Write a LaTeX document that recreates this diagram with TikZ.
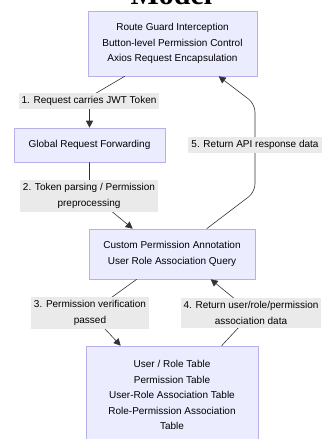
\documentclass[tikz,border=0pt]{standalone}
\usepackage{fontspec}
\setmainfont{Liberation Sans}
\newfontfamily\titlefont{Liberation Serif}
\usetikzlibrary{arrows.meta,calc}
\definecolor{boxfill}{HTML}{ECECFF}
\definecolor{boxline}{HTML}{B8B0EC}
\definecolor{lblfill}{HTML}{EAEAEA}
\definecolor{edgec}{HTML}{333333}
\begin{document}
\begin{tikzpicture}[x=1pt,y=-1pt,
  box/.style={draw=boxline,fill=boxfill,line width=0.6pt,align=center,font=\fontsize{10}{15.5}\selectfont,inner sep=0pt},
  lbl/.style={fill=lblfill,align=center,font=\fontsize{10}{16}\selectfont,inner sep=3pt},
  edge/.style={draw=edgec,line width=0.6pt,rounded corners=8pt,-{Triangle[length=7pt,width=7pt]}}]
\useasboundingbox (0,0) rectangle (322,439);
\node[font=\titlefont\bfseries\fontsize{30}{30}\selectfont,anchor=base] (title) at (171.5,5) {Model};
\node[box,minimum width=169pt,minimum height=65pt] (b1) at (172.5,43.5) {Route Guard Interception\\Button-level Permission Control\\Axios Request Encapsulation};
\node[box,minimum width=151pt,minimum height=34pt] (b2) at (89.5,145) {Global Request Forwarding};
\node[box,minimum width=166pt,minimum height=50pt] (b3) at (172,254) {Custom Permission Annotation\\User Role Association Query};
\node[box,minimum width=172pt,minimum height=98pt] (b4) at (172,395) {User / Role Table\\Permission Table\\User-Role Association Table\\Role-Permission Association\\Table};
\draw[edge] ($(b1.south west)+(37,0)$) -- (89.5,97) -- (b2.north);
\draw[edge] (b2.south) -- (89.5,193) -- ($(b3.north west)+(44,0)$);
\draw[edge] ($(b3.south west)+(48,0)$) -- (90,313) -- ($(b4.north west)+(35,0)$);
\draw[edge] ($(b4.north west)+(136,0)$) -- (252,313) -- ($(b3.south west)+(122,0)$);
\draw[edge] ($(b3.north west)+(118,0)$) -- (255,192) -- (255,104) -- ($(b1.south west)+(131,0)$);
\node[lbl] (l1) at (89,101) {1. Request carries JWT Token};
\node[lbl] (l2) at (89,196) {2. Token parsing / Permission\\preprocessing};
\node[lbl] (l3) at (90,313) {3. Permission verification\\passed};
\node[lbl] (l4) at (251,313) {4. Return user/role/permission\\association data};
\node[lbl] (l5) at (255,145) {5. Return API response data};
\end{tikzpicture}
\end{document}
